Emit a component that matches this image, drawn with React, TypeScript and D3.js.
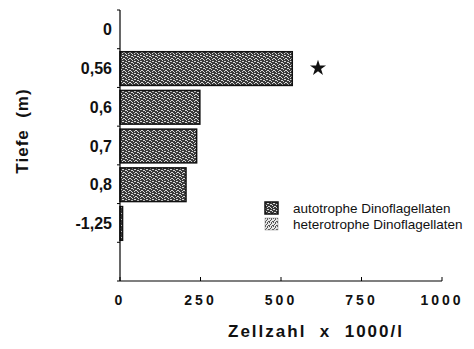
import React, { useEffect, useRef } from 'react';
import * as d3 from 'd3';

const depths = ['0', '0,56', '0,6', '0,7', '0,8', '-1,25'];
const autotrophe = [0, 535, 248, 238, 205, 8];
const heterotrophe = [0, 0, 0, 0, 0, 0];
const xTicks = [0, 250, 500, 750, 1000];
const legendLabels = ['autotrophe Dinoflagellaten', 'heterotrophe Dinoflagellaten'];

// light pixels of the dark stipple tile (6x6)
const darkDots = [[0, 0], [3, 1], [5, 2], [1, 3], [4, 4], [2, 5], [0, 2], [3, 4], [5, 5], [2, 1]];
const lightDots = [[0, 0], [2, 1], [1, 2], [3, 3], [0, 3], [2, 0]];

const App: React.FC = () => {
  const svgRef = useRef<SVGSVGElement>(null);

  useEffect(() => {
    if (!svgRef.current) return;
    const svg = d3.select(svgRef.current);
    svg.selectAll('*').remove();

    const font = 'Liberation Sans, Arial, sans-serif';
    const left = 120, top = 10, right = 442, bottom = 281;

    // stipple patterns
    const defs = svg.append('defs');
    const dark = defs.append('pattern').attr('id', 'pDark')
      .attr('width', 6).attr('height', 6).attr('patternUnits', 'userSpaceOnUse');
    dark.append('rect').attr('width', 6).attr('height', 6).attr('fill', '#3a3a3a');
    darkDots.forEach(([px, py]) =>
      dark.append('rect').attr('x', px).attr('y', py).attr('width', 1).attr('height', 1).attr('fill', '#d8d8d8'));
    const light = defs.append('pattern').attr('id', 'pLight')
      .attr('width', 4).attr('height', 4).attr('patternUnits', 'userSpaceOnUse');
    light.append('rect').attr('width', 4).attr('height', 4).attr('fill', '#e6e6e6');
    lightDots.forEach(([px, py]) =>
      light.append('rect').attr('x', px).attr('y', py).attr('width', 1).attr('height', 1).attr('fill', '#555'));

    const x = d3.scaleLinear().domain([0, 1000]).range([left, right]);
    const y = d3.scaleBand().domain([...depths, '']).range([top, bottom]).paddingInner(0);

    // bars
    const g = svg.append('g');
    depths.forEach((d, i) => {
      const y0 = (y(d) || 0) + 3;
      const h = y.bandwidth() - 5;
      if (autotrophe[i] > 0) {
        g.append('rect')
          .attr('x', x(0)).attr('y', y0)
          .attr('width', x(autotrophe[i]) - x(0)).attr('height', h)
          .attr('fill', 'url(#pDark)').attr('stroke', '#111').attr('stroke-width', 1.5);
      }
      if (heterotrophe[i] > 0) {
        g.append('rect')
          .attr('x', x(autotrophe[i])).attr('y', y0)
          .attr('width', x(autotrophe[i] + heterotrophe[i]) - x(autotrophe[i])).attr('height', h)
          .attr('fill', 'url(#pLight)').attr('stroke', '#111').attr('stroke-width', 1);
      }
    });

    // axes
    svg.append('line').attr('x1', left).attr('x2', left).attr('y1', top).attr('y2', bottom)
      .attr('stroke', '#000').attr('stroke-width', 1.2);
    svg.append('line').attr('x1', left).attr('x2', right).attr('y1', bottom).attr('y2', bottom)
      .attr('stroke', '#000').attr('stroke-width', 1.2);

    const yTickPos = [...depths, ''].map(d => (y(d) || 0) + y.bandwidth());
    yTickPos.forEach(p => {
      svg.append('line').attr('x1', left - 3).attr('x2', left).attr('y1', p).attr('y2', p)
        .attr('stroke', '#000').attr('stroke-width', 1);
    });
    svg.append('line').attr('x1', left - 3).attr('x2', left).attr('y1', top).attr('y2', top)
      .attr('stroke', '#000').attr('stroke-width', 1);

    depths.forEach(d => {
      svg.append('text')
        .attr('x', left - 8).attr('y', (y(d) || 0) + y.bandwidth() / 2 + 6)
        .attr('text-anchor', 'end').attr('font-family', font).attr('font-size', 16)
        .attr('font-weight', 'bold').attr('fill', '#111').text(d);
    });

    xTicks.forEach(t => {
      svg.append('line').attr('x1', x(t)).attr('x2', x(t)).attr('y1', bottom).attr('y2', bottom - 4)
        .attr('stroke', '#000').attr('stroke-width', 1);
      svg.append('text')
        .attr('x', x(t)).attr('y', bottom + 24)
        .attr('text-anchor', 'middle').attr('font-family', font).attr('font-size', 14)
        .attr('font-weight', 'bold').attr('letter-spacing', '3px').attr('fill', '#111')
        .text(String(t));
    });

    // axis titles
    svg.append('text')
      .attr('x', 316).attr('y', 337)
      .attr('text-anchor', 'middle').attr('font-family', font).attr('font-size', 17)
      .attr('font-weight', 'bold').attr('letter-spacing', '2px').attr('fill', '#111')
      .attr('xml:space', 'preserve')
      .text('Zellzahl  x  1000/l');
    svg.append('text')
      .attr('transform', 'translate(28,131) rotate(-90)')
      .attr('text-anchor', 'middle').attr('font-family', font).attr('font-size', 17)
      .attr('font-weight', 'bold').attr('letter-spacing', '1px').attr('fill', '#111')
      .attr('xml:space', 'preserve')
      .text('Tiefe  (m)');

    // star marker
    svg.append('path')
      .attr('d', d3.symbol(d3.symbolStar, 80)())
      .attr('transform', `translate(318,${(y('0,56') || 0) + y.bandwidth() / 2})`)
      .attr('fill', '#111');

    // legend
    const leg = svg.append('g').attr('transform', 'translate(265,202)');
    legendLabels.forEach((lab, i) => {
      leg.append('rect').attr('x', 0).attr('y', i * 16).attr('width', 13).attr('height', 12)
        .attr('fill', i === 0 ? 'url(#pDark)' : 'url(#pLight)')
        .attr('stroke', i === 0 ? '#111' : '#888').attr('stroke-width', i === 0 ? 1.5 : 0.5);
      leg.append('text').attr('x', 28).attr('y', i * 16 + 11)
        .attr('font-family', font).attr('font-size', 13.5).attr('fill', '#111').text(lab);
    });
  }, []);

  return (
    <svg ref={svgRef} width={474} height={349}
      style={{ position: 'absolute', left: 0, top: 0, background: '#fff' }} />
  );
};

export default App;
